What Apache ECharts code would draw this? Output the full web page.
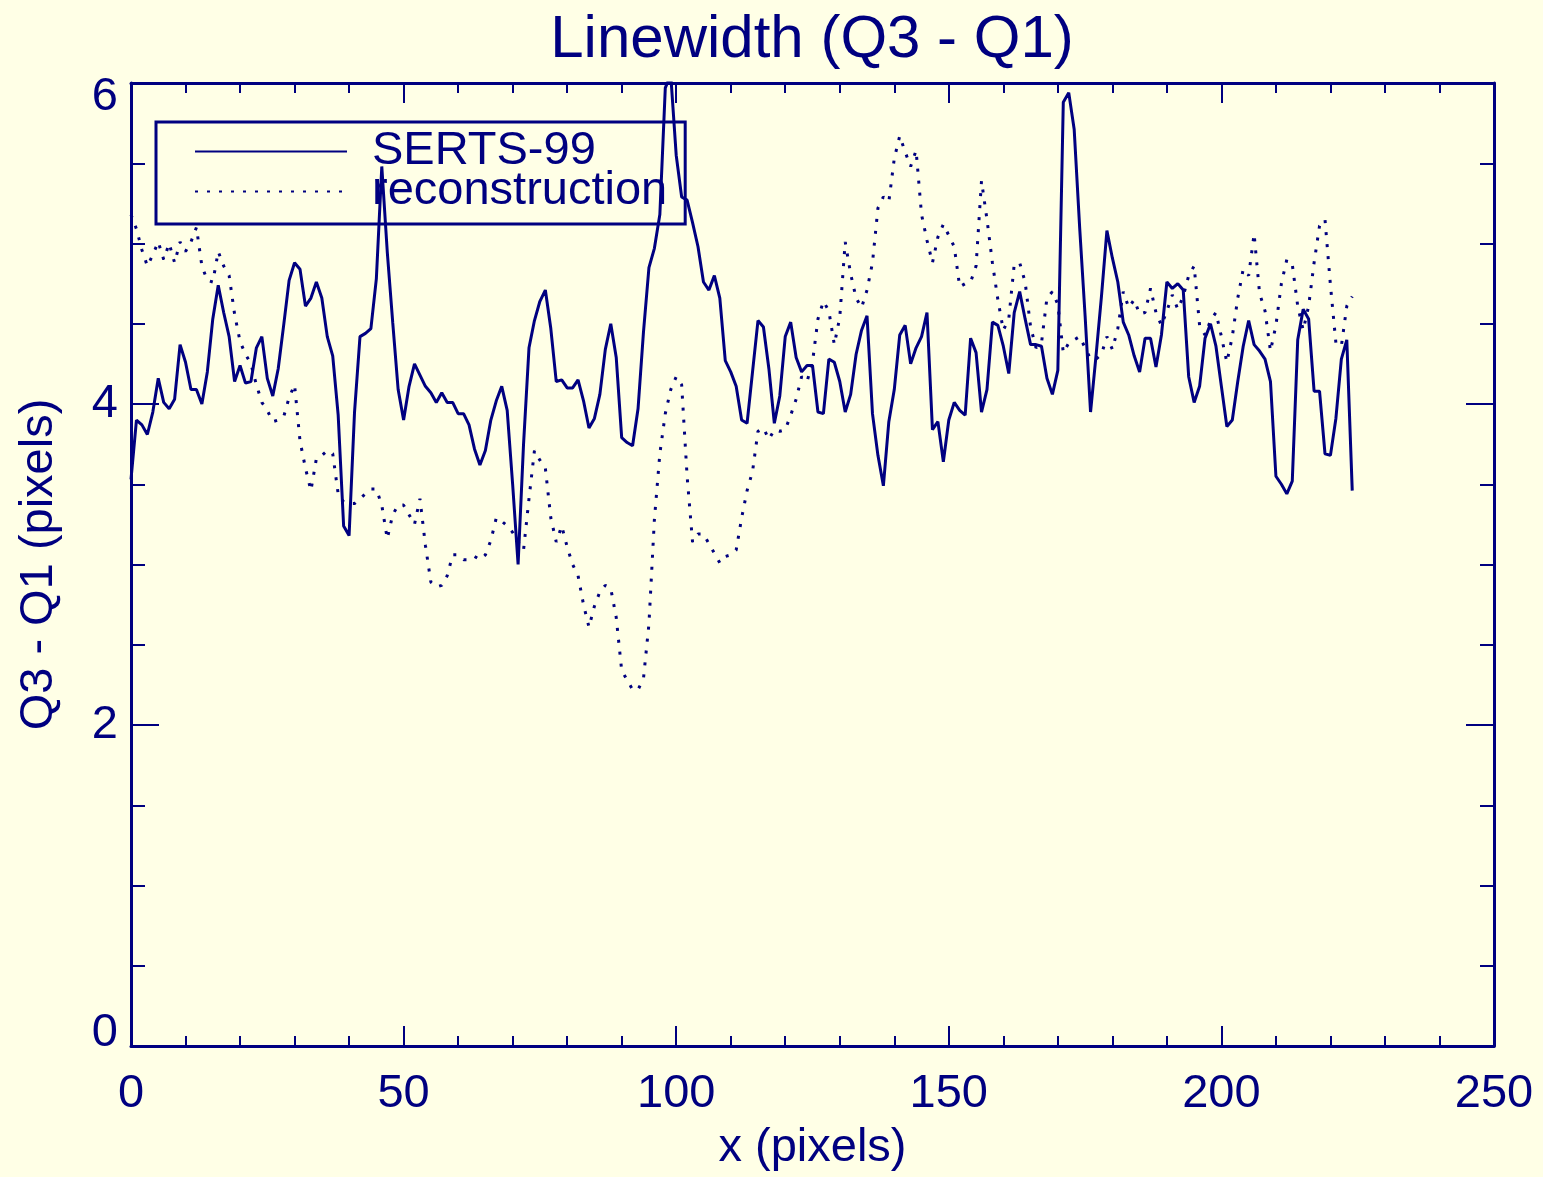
<!DOCTYPE html>
<html><head><meta charset="utf-8">
<script src="https://cdn.jsdelivr.net/npm/echarts@6/dist/echarts.min.js"></script>
<style>html,body{margin:0;padding:0;background:#ffffe6}#c{width:1543px;height:1177px}</style>
</head><body><div id="c"></div>
<script>
// SERTS-99 (solid) and reconstruction (dotted), one value per x pixel 0..224
const serts = [
3.53,3.90,3.87,3.81,3.95,4.16,4.01,3.97,4.03,4.37,
4.26,4.09,4.09,4.00,4.20,4.53,4.74,4.57,4.42,4.14,
4.24,4.13,4.14,4.35,4.42,4.16,4.05,4.22,4.49,4.77,
4.88,4.84,4.61,4.66,4.76,4.66,4.42,4.30,3.93,3.24,
3.18,3.95,4.42,4.44,4.47,4.78,5.48,4.95,4.51,4.09,
3.90,4.11,4.25,4.18,4.11,4.07,4.01,4.07,4.01,4.01,
3.94,3.94,3.87,3.72,3.62,3.71,3.90,4.02,4.11,3.96,
3.50,3.00,3.75,4.35,4.52,4.64,4.71,4.47,4.14,4.15,
4.10,4.10,4.15,4.02,3.85,3.91,4.06,4.34,4.50,4.29,
3.79,3.76,3.74,3.97,4.45,4.85,4.97,5.18,5.97,6.05,
5.55,5.29,5.27,5.13,4.98,4.76,4.71,4.80,4.66,4.27,
4.20,4.11,3.90,3.88,4.20,4.52,4.48,4.22,3.88,4.05,
4.42,4.51,4.29,4.20,4.24,4.24,3.95,3.94,4.28,4.26,
4.14,3.95,4.06,4.31,4.46,4.55,3.94,3.68,3.49,3.89,
4.09,4.43,4.49,4.25,4.35,4.42,4.57,3.84,3.89,3.64,
3.90,4.01,3.96,3.93,4.41,4.32,3.95,4.09,4.51,4.49,
4.36,4.19,4.57,4.70,4.53,4.37,4.37,4.36,4.16,4.06,
4.21,5.88,5.94,5.71,5.10,4.55,3.95,4.30,4.67,5.08,
4.91,4.76,4.51,4.43,4.30,4.20,4.41,4.41,4.23,4.43,
4.76,4.72,4.75,4.71,4.17,4.01,4.11,4.41,4.50,4.36,
4.11,3.86,3.90,4.14,4.36,4.52,4.37,4.33,4.28,4.14,
3.55,3.50,3.44,3.52,4.40,4.59,4.53,4.08,4.08,3.69,
3.68,3.91,4.28,4.40,3.46
];
const recon = [
5.18,5.09,4.96,4.86,4.93,5.01,4.90,5.00,4.88,5.01,
4.95,5.01,5.10,4.86,4.77,4.76,4.95,4.86,4.80,4.56,
4.39,4.31,4.25,4.12,4.01,3.96,3.89,3.90,3.92,4.04,
4.12,3.77,3.60,3.46,3.66,3.68,3.71,3.69,3.44,3.39,
3.38,3.38,3.41,3.44,3.47,3.47,3.37,3.16,3.31,3.37,
3.37,3.31,3.25,3.41,3.12,2.89,2.86,2.87,2.93,3.06,
3.06,3.03,3.03,3.05,3.03,3.06,3.15,3.29,3.27,3.24,
3.20,3.14,3.09,3.41,3.71,3.65,3.60,3.29,3.14,3.24,
3.11,3.00,2.93,2.75,2.61,2.74,2.83,2.87,2.85,2.67,
2.34,2.28,2.22,2.22,2.29,2.63,3.28,3.69,3.94,4.09,
4.17,4.12,3.55,3.14,3.19,3.19,3.13,3.07,3.01,3.05,
3.06,3.09,3.29,3.46,3.58,3.83,3.85,3.78,3.84,3.83,
3.84,3.93,4.03,4.17,4.14,4.26,4.53,4.64,4.58,4.37,
4.54,5.01,4.81,4.66,4.60,4.71,4.88,5.22,5.29,5.26,
5.53,5.67,5.57,5.48,5.58,5.18,5.02,4.88,5.04,5.12,
5.05,4.98,4.73,4.75,4.76,4.86,5.39,5.15,4.88,4.65,
4.46,4.53,4.87,4.88,4.76,4.48,4.35,4.38,4.66,4.70,
4.62,4.32,4.38,4.40,4.42,4.35,4.28,4.28,4.31,4.42,
4.34,4.47,4.70,4.60,4.65,4.56,4.57,4.72,4.57,4.49,
4.58,4.68,4.59,4.67,4.80,4.86,4.49,4.43,4.52,4.57,
4.42,4.26,4.42,4.66,4.84,4.80,5.06,4.69,4.58,4.33,
4.49,4.75,4.90,4.87,4.61,4.46,4.61,4.88,5.11,5.15,
4.74,4.38,4.36,4.61,4.67
];
const seriesNames = ['SERTS-99', 'reconstruction'];
const titleText = 'Linewidth (Q3 - Q1)';
const xName = 'x (pixels)';
const yName = 'Q3 - Q1 (pixels)';

const NAVY = '#000080';
const FONT = 'Liberation Sans, Arial, sans-serif';
const chart = echarts.init(document.getElementById('c'));

function axisCommon(len, minorLen, split) {
  return {
    axisLine: { show: true, onZero: false, lineStyle: { color: NAVY, width: 3 } },
    axisTick: { show: true, inside: true, length: len, lineStyle: { color: NAVY, width: 2 } },
    minorTick: { show: true, splitNumber: split, length: minorLen, lineStyle: { color: NAVY, width: 2 } },
    splitLine: { show: false },
    minorSplitLine: { show: false }
  };
}

const option = {
  backgroundColor: '#ffffe6',
  animation: false,
  title: {
    text: titleText, left: 812, top: 10, textAlign: 'center', padding: 0,
    textStyle: { color: NAVY, fontFamily: FONT, fontSize: 60, fontWeight: 'normal' }
  },
  legend: {
    orient: 'vertical', left: 156, top: 122,
    padding: [6, 18, 9, 38], itemGap: -7,
    itemWidth: 152, itemHeight: 14,
    borderColor: NAVY, borderWidth: 3,
    selectedMode: false,
    data: seriesNames,
    itemStyle: { color: 'rgba(0,0,0,0)', borderWidth: 0, opacity: 0 },
    textStyle: { color: NAVY, fontFamily: FONT, fontSize: 47, padding: [0, 0, 0, 20] }
  },
  grid: { left: 131, right: 49, top: 83, bottom: 128, containLabel: false },
  xAxis: [
    Object.assign({
      type: 'value', position: 'bottom', min: 0, max: 250, interval: 50,
      name: xName, nameLocation: 'middle', nameGap: 79,
      nameTextStyle: { color: NAVY, fontFamily: FONT, fontSize: 47 },
      axisLabel: { color: NAVY, fontFamily: FONT, fontSize: 47, margin: 25 }
    }, axisCommon(20, 10, 5)),
    Object.assign({
      type: 'value', position: 'top', min: 0, max: 250, interval: 50,
      axisLabel: { show: false }
    }, axisCommon(20, 10, 5))
  ],
  yAxis: [
    Object.assign({
      type: 'value', position: 'left', min: 0, max: 6, interval: 2,
      name: yName, nameLocation: 'middle', nameGap: 68,
      nameTextStyle: { color: NAVY, fontFamily: FONT, fontSize: 47 },
      axisLabel: {
        color: NAVY, fontFamily: FONT, fontSize: 47, margin: 13,
        formatter: function (v) {
          if (v === 6) return '{hi|' + v + '}';
          if (v === 0) return '{lo|' + v + '}';
          return '{m|' + v + '}';
        },
        rich: {
          hi: { color: NAVY, fontFamily: FONT, fontSize: 47, padding: [28, 0, 0, 0] },
          lo: { color: NAVY, fontFamily: FONT, fontSize: 47, padding: [0, 0, 26, 0] },
          m: { color: NAVY, fontFamily: FONT, fontSize: 47 }
        }
      }
    }, axisCommon(28, 14, 4)),
    Object.assign({
      type: 'value', position: 'right', min: 0, max: 6, interval: 2,
      axisLabel: { show: false }
    }, axisCommon(28, 14, 4))
  ],
  series: [
    {
      name: seriesNames[0], type: 'line', xAxisIndex: 0, yAxisIndex: 0,
      data: serts.map((v, i) => [i, v]),
      symbol: 'none', showSymbol: false, clip: true,
      lineStyle: { color: NAVY, width: 3 },
      itemStyle: { color: NAVY }
    },
    {
      name: seriesNames[1], type: 'line', xAxisIndex: 0, yAxisIndex: 0,
      data: recon.map((v, i) => [i, v]),
      symbol: 'none', showSymbol: false, clip: true,
      lineStyle: { color: NAVY, width: 3, type: [3, 9], cap: 'butt' },
      itemStyle: { color: NAVY }
    }
  ]
};
chart.setOption(option);
</script>
</body></html>
